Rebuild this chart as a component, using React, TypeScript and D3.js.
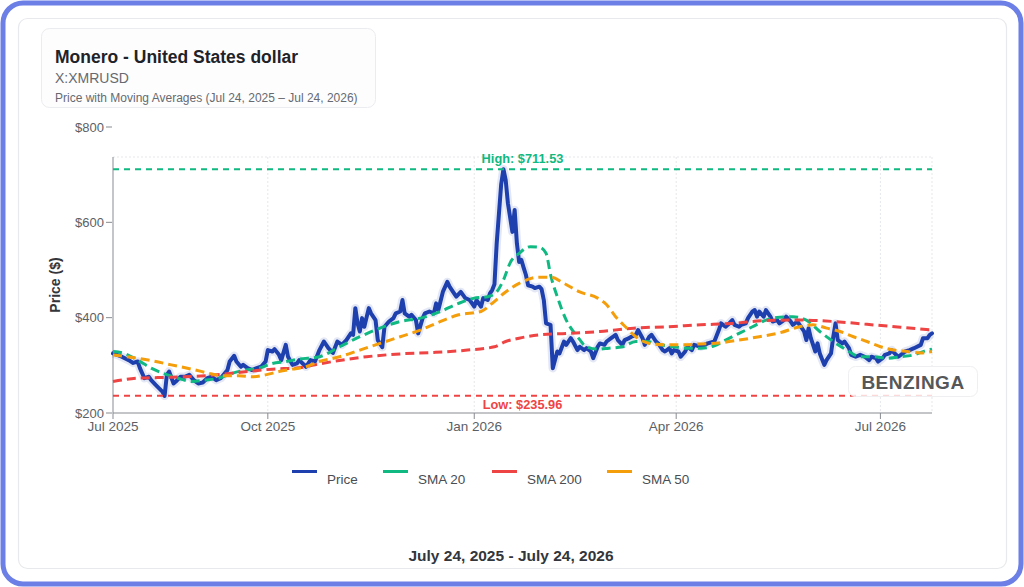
import React, { useEffect, useRef } from 'react';
import * as d3 from 'd3';

// Date range of the chart (UTC days)
const startDate = new Date(Date.UTC(2025, 6, 24));
const endDate = new Date(Date.UTC(2026, 6, 24));

// Price: day offset from Jul 24, 2025 and close value
const priceDays = [
  0, 3, 7, 9, 11, 12, 14, 16, 17, 19, 22, 23, 24, 25, 27, 28, 30, 32, 34, 36, 38, 40, 42, 44, 46, 48,
  51, 52, 54, 55, 57, 58, 60, 62, 64, 66, 68, 69, 71, 72, 74, 75, 77, 78, 80, 82, 83, 86, 88, 90, 92,
  94, 96, 98, 100, 102, 104, 106, 107, 108, 109, 110, 111, 112, 114, 115, 117, 118, 120, 121, 123,
  125, 126, 128, 129, 130, 132, 133, 135, 136, 138, 139, 141, 143, 144, 145, 147, 149, 150, 152, 153,
  155, 157, 159, 161, 162, 164, 165, 167, 168, 169, 170, 171, 173, 174, 175, 176, 178, 179, 180, 181,
  182, 183, 184, 185, 187, 188, 190, 191, 192, 193, 195, 196, 198, 199, 201, 202, 204, 205, 207, 208,
  210, 211, 213, 214, 216, 217, 219, 220, 222, 224, 225, 227, 228, 230, 231, 233, 234, 236, 237, 239,
  240, 242, 243, 245, 246, 248, 249, 250, 252, 253, 255, 256, 258, 259, 262, 265, 268, 270, 271, 273,
  274, 276, 277, 279, 280, 282, 283, 285, 286, 287, 288, 290, 291, 293, 294, 296, 297, 299, 300, 302,
  303, 305, 306, 308, 309, 310, 311, 313, 314, 315, 317, 318, 320, 321, 322, 323, 325, 326, 328, 329,
  331, 333, 335, 337, 338, 340, 341, 343, 344, 346, 347, 349, 350, 352, 353, 355, 357, 360, 361, 363,
  364, 365
];
const priceValues = [
  325, 320, 311, 305, 308, 294, 273, 276, 269, 259, 245, 235.96, 280, 287, 262, 266, 276, 276, 280, 269,
  262, 264, 273, 276, 269, 273, 290, 308, 320, 308, 297, 301, 294, 290, 294, 297, 308, 332, 329, 334,
  322, 311, 343, 318, 301, 304, 311, 297, 311, 308, 332, 350, 336, 326, 350, 343, 353, 367, 364, 420,
  388, 371, 399, 381, 420, 409, 395, 353, 338, 381, 392, 399, 409, 413, 437, 409, 402, 406, 395, 367,
  399, 409, 413, 409, 430, 416, 454, 475, 465, 451, 444, 454, 441, 437, 423, 437, 423, 441, 437, 451,
  458, 470, 556, 680, 711.53, 689, 640, 580, 626, 556, 517, 521, 505, 490, 468, 465, 462, 465, 460,
  437, 388, 385, 294, 329, 325, 350, 343, 357, 350, 332, 339, 332, 336, 329, 315, 339, 346, 343, 350,
  357, 364, 353, 343, 353, 357, 360, 364, 374, 357, 343, 360, 364, 350, 346, 332, 329, 336, 325, 332,
  329, 318, 329, 339, 332, 343, 339, 346, 350, 374, 388, 381, 385, 395, 385, 381, 385, 388, 399, 413,
  416, 402, 413, 402, 416, 402, 392, 395, 388, 395, 402, 392, 385, 392, 385, 371, 353, 378, 357, 329,
  346, 325, 301, 311, 325, 360, 388, 353, 346, 350, 336, 322, 318, 322, 318, 311, 318, 315, 308, 315,
  322, 325, 332, 322, 318, 325, 329, 332, 336, 343, 357, 357, 364, 367
];

const sma20Days = [
  0, 5, 11, 17, 23, 29, 35, 41, 47, 53, 59, 65, 71, 77, 83, 92, 101, 110, 119, 128, 137, 146, 154, 161,
  167, 171, 174, 177, 181, 186, 190, 193, 195, 198, 202, 207, 211, 216, 221, 227, 233, 238, 244, 250,
  256, 262, 268, 273, 279, 285, 291, 297, 303, 309, 315, 321, 327, 333, 339, 345, 351, 357, 363, 365
];
const sma20Values = [
  329, 325, 311, 294, 282, 273, 266, 269, 273, 283, 290, 294, 304, 308, 313, 318, 339, 360, 378, 392,
  399, 413, 430, 441, 444, 454, 479, 515, 535, 549, 548, 535, 490, 444, 395, 360, 339, 334, 336, 339,
  350, 350, 343, 339, 336, 336, 341, 353, 367, 381, 395, 401, 402, 395, 371, 350, 332, 318, 318, 315,
  318, 322, 332, 334
];

const sma50Days = [
  0, 8, 17, 26, 35, 44, 48, 56, 62, 68, 74, 80, 86, 92, 101, 110, 119, 128, 137, 146, 154, 164, 169,
  175, 181, 190, 195, 201, 208, 216, 220, 224, 229, 233, 239, 247, 254, 262, 270, 279, 288, 297, 306,
  312, 318, 324, 330, 336, 342, 348, 354, 360, 365
];
const sma50Values = [
  322, 317, 310, 301, 292, 282, 278, 278, 276, 280, 287, 292, 297, 308, 318, 332, 346, 360, 374, 392,
  406, 413, 430, 454, 472, 485, 485, 472, 454, 441, 427, 402, 378, 360, 346, 343, 343, 345, 347, 353,
  360, 368, 381, 385, 378, 371, 360, 350, 339, 332, 329, 326, 329
];

const sma200Days = [
  0, 11, 26, 41, 56, 71, 83, 92, 98, 113, 128, 143, 158, 170, 175, 181, 190, 202, 217, 232, 247, 262,
  276, 291, 306, 321, 336, 351, 365
];
const sma200Values = [
  266, 273, 275, 278, 285, 292, 295, 303, 308, 318, 324, 327, 332, 339, 350, 357, 364, 367, 371, 378,
  381, 385, 388, 394, 395, 392, 386, 380, 374
];

const highValue = 711.53;
const lowValue = 235.96;

const yTicks = [200, 400, 600, 800];
const xTickDays = [0, 69, 161, 251, 342];
const xTickLabels = ['Jul 2025', 'Oct 2025', 'Jan 2026', 'Apr 2026', 'Jul 2026'];
const legendNames = ['Price', 'SMA 20', 'SMA 200', 'SMA 50'];

const COLORS = {
  price: '#1e3fae',
  sma20: '#10b981',
  sma200: '#ef4444',
  sma50: '#f59e0b'
};

const FONT = 'Arial, "Liberation Sans", Helvetica, sans-serif';

const App: React.FC = () => {
  const svgRef = useRef<SVGSVGElement>(null);

  useEffect(() => {
    if (!svgRef.current) return;
    const svg = d3.select(svgRef.current);
    svg.selectAll('*').remove();

    const W = 1024;
    const H = 587;

    // Frames
    svg.append('rect')
      .attr('x', 3).attr('y', 3)
      .attr('width', W - 6).attr('height', H - 6)
      .attr('rx', 20)
      .attr('fill', '#ffffff')
      .attr('stroke', '#6b7fe6')
      .attr('stroke-width', 5);

    svg.append('rect')
      .attr('x', 18.5).attr('y', 18.5)
      .attr('width', 988).attr('height', 550)
      .attr('rx', 9)
      .attr('fill', '#ffffff')
      .attr('stroke', '#e8e9ec')
      .attr('stroke-width', 1.2);

    // Title box
    svg.append('rect')
      .attr('x', 41.5).attr('y', 28.5)
      .attr('width', 334).attr('height', 79)
      .attr('rx', 8)
      .attr('fill', '#fdfdfe')
      .attr('stroke', '#ebecef');

    svg.append('text')
      .attr('x', 55).attr('y', 63)
      .style('font-family', FONT)
      .style('font-size', '17.5px')
      .style('font-weight', 'bold')
      .attr('fill', '#1f2329')
      .text('Monero - United States dollar');

    svg.append('text')
      .attr('x', 55).attr('y', 82.5)
      .style('font-family', FONT)
      .style('font-size', '14px')
      .attr('fill', '#666a70')
      .text('X:XMRUSD');

    svg.append('text')
      .attr('x', 55).attr('y', 101.5)
      .style('font-family', FONT)
      .style('font-size', '12px')
      .attr('fill', '#666a70')
      .text('Price with Moving Averages (Jul 24, 2025 – Jul 24, 2026)');

    // Scales
    const x = d3.scaleUtc().domain([startDate, endDate]).range([113, 932]);
    const y = d3.scaleLinear().domain([200, 800]).range([413, 127]);
    const plotTop = 157;
    const day = (d: number) => d3.utcDay.offset(startDate, d);

    // Grid (dotted)
    const grid = svg.append('g')
      .attr('stroke', '#e6e7ea')
      .attr('stroke-width', 1)
      .attr('stroke-dasharray', '2,2');
    grid.selectAll('line.v')
      .data(xTickDays.slice(1).concat([365]))
      .enter().append('line')
      .attr('class', 'v')
      .attr('x1', d => x(day(d))).attr('x2', d => x(day(d)))
      .attr('y1', plotTop).attr('y2', y(200));
    grid.append('line')
      .attr('x1', x(startDate)).attr('x2', x(endDate))
      .attr('y1', plotTop).attr('y2', plotTop);

    // Axes
    const axisColor = '#888b90';
    svg.append('line')
      .attr('x1', x(startDate)).attr('x2', x(startDate))
      .attr('y1', plotTop).attr('y2', y(200))
      .attr('stroke', axisColor);
    svg.append('line')
      .attr('x1', x(startDate)).attr('x2', x(endDate))
      .attr('y1', y(200)).attr('y2', y(200))
      .attr('stroke', axisColor);

    const yAxis = svg.append('g');
    yAxis.selectAll('line')
      .data(yTicks)
      .enter().append('line')
      .attr('x1', 106).attr('x2', 112)
      .attr('y1', d => y(d)).attr('y2', d => y(d))
      .attr('stroke', axisColor);
    yAxis.selectAll('text')
      .data(yTicks)
      .enter().append('text')
      .attr('x', 104).attr('y', d => y(d))
      .attr('dy', '0.35em')
      .attr('text-anchor', 'end')
      .style('font-family', FONT)
      .style('font-size', '13px')
      .attr('fill', '#5b5f66')
      .text(d => `$${d}`);

    const xAxis = svg.append('g');
    xAxis.selectAll('line')
      .data(xTickDays)
      .enter().append('line')
      .attr('x1', d => x(day(d))).attr('x2', d => x(day(d)))
      .attr('y1', y(200)).attr('y2', y(200) + 6)
      .attr('stroke', axisColor);
    xAxis.selectAll('text')
      .data(xTickDays)
      .enter().append('text')
      .attr('x', d => x(day(d))).attr('y', 430.5)
      .attr('text-anchor', 'middle')
      .style('font-family', FONT)
      .style('font-size', '13.5px')
      .attr('fill', '#5b5f66')
      .text((_, i) => xTickLabels[i]);

    svg.append('text')
      .attr('transform', `translate(60,${(plotTop + y(200)) / 2}) rotate(-90)`)
      .attr('text-anchor', 'middle')
      .style('font-family', FONT)
      .style('font-size', '14px')
      .style('font-weight', 'bold')
      .attr('fill', '#33363b')
      .text('Price ($)');

    // Series
    const line = d3.line<[number, number]>()
      .x(d => x(day(d[0])))
      .y(d => y(d[1]))
      .curve(d3.curveLinear);

    const zip = (a: number[], b: number[]) => a.map((d, i) => [d, b[i]] as [number, number]);
    const priceData = zip(priceDays, priceValues);

    svg.append('path')
      .datum(priceData)
      .attr('d', line)
      .attr('fill', 'none')
      .attr('stroke', COLORS.price)
      .attr('stroke-opacity', 0.12)
      .attr('stroke-width', 8.5)
      .attr('stroke-linejoin', 'round');

    svg.append('path')
      .datum(priceData)
      .attr('d', line)
      .attr('fill', 'none')
      .attr('stroke', COLORS.price)
      .attr('stroke-width', 4)
      .attr('stroke-linejoin', 'round')
      .attr('stroke-linecap', 'round');

    const smaLine = d3.line<[number, number]>()
      .x(d => x(day(d[0])))
      .y(d => y(d[1]))
      .curve(d3.curveMonotoneX);

    const smas: [number[], number[], string][] = [
      [sma20Days, sma20Values, COLORS.sma20],
      [sma200Days, sma200Values, COLORS.sma200],
      [sma50Days, sma50Values, COLORS.sma50]
    ];
    smas.forEach(([days, vals, color]) => {
      svg.append('path')
        .datum(zip(days, vals))
        .attr('d', smaLine)
        .attr('fill', 'none')
        .attr('stroke', color)
        .attr('stroke-width', 3)
        .attr('stroke-dasharray', '9,5');
    });

    // High / low reference lines
    const refs: [number, string, string][] = [
      [highValue, COLORS.sma20, `High: $${highValue.toFixed(2)}`],
      [lowValue, COLORS.sma200, `Low: $${lowValue.toFixed(2)}`]
    ];
    refs.forEach(([v, color, label], i) => {
      svg.append('line')
        .attr('x1', x(startDate)).attr('x2', x(endDate))
        .attr('y1', y(v)).attr('y2', y(v))
        .attr('stroke', color)
        .attr('stroke-width', 2)
        .attr('stroke-dasharray', '6,5');
      svg.append('text')
        .attr('x', (x(startDate) + x(endDate)) / 2)
        .attr('y', i === 0 ? y(v) - 6 : y(v) + 13.5)
        .attr('text-anchor', 'middle')
        .style('font-family', FONT)
        .style('font-size', '12.8px')
        .style('font-weight', 'bold')
        .attr('fill', color)
        .text(label);
    });

    // Watermark
    svg.append('rect')
      .attr('x', 848.5).attr('y', 366.5)
      .attr('width', 129).attr('height', 30)
      .attr('rx', 7)
      .attr('fill', '#ffffff')
      .attr('fill-opacity', 0.8)
      .attr('stroke', '#efeff1');
    svg.append('text')
      .attr('x', 913).attr('y', 388.5)
      .attr('text-anchor', 'middle')
      .style('font-family', FONT)
      .style('font-size', '19px')
      .style('font-weight', 'bold')
      .style('letter-spacing', '0.5px')
      .attr('fill', '#555759')
      .text('BENZINGA');

    // Legend
    const legendX = [292, 383, 492, 607];
    const legendColors = [COLORS.price, COLORS.sma20, COLORS.sma200, COLORS.sma50];
    const legend = svg.append('g');
    legendNames.forEach((name, i) => {
      legend.append('line')
        .attr('x1', legendX[i]).attr('x2', legendX[i] + 25)
        .attr('y1', 471.5).attr('y2', 471.5)
        .attr('stroke', legendColors[i])
        .attr('stroke-width', 3);
      legend.append('text')
        .attr('x', legendX[i] + 35).attr('y', 484)
        .style('font-family', FONT)
        .style('font-size', '13.5px')
        .attr('fill', '#4a4d52')
        .text(name);
    });

    svg.append('text')
      .attr('x', 511).attr('y', 561)
      .attr('text-anchor', 'middle')
      .style('font-family', FONT)
      .style('font-size', '15.5px')
      .style('font-weight', 'bold')
      .attr('fill', '#33363b')
      .text('July 24, 2025 - July 24, 2026');
  }, []);

  return (
    <svg
      ref={svgRef}
      width={1024}
      height={587}
      style={{ position: 'absolute', left: 0, top: 0, display: 'block' }}
    />
  );
};

export default App;
